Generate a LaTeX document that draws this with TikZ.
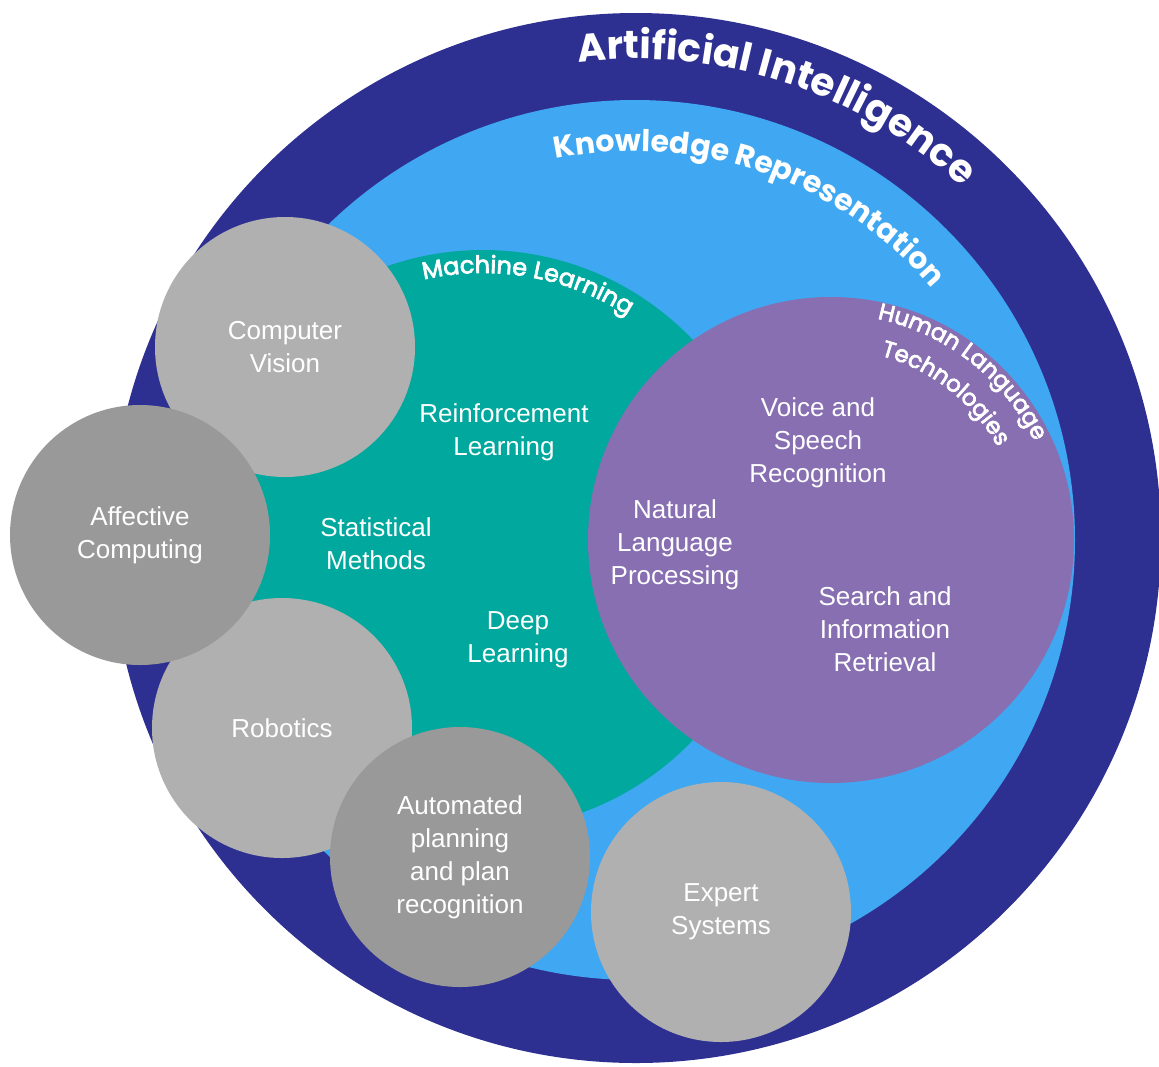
\documentclass[tikz,border=0pt]{standalone}
\usepackage{fontspec}
\setmainfont{Liberation Sans}
\newfontfamily\titlefont{Poppins}
\newfontfamily\subtitlefont{Poppins}[FakeBold=3]
\usepackage{tikz}
\usetikzlibrary{decorations.text}

\definecolor{aiblue}{RGB}{45,48,145}
\definecolor{krblue}{RGB}{64,168,242}
\definecolor{mlteal}{RGB}{0,168,158}
\definecolor{hltpurple}{RGB}{135,111,178}
\definecolor{palegrey}{RGB}{176,176,176}
\definecolor{midgrey}{RGB}{153,153,153}

% fonts for the ring titles
\newcommand{\aifont}{\titlefont\bfseries\fontsize{39}{46}\selectfont\color{white}}
\newcommand{\krfont}{\titlefont\bfseries\fontsize{30}{36}\selectfont\color{white}}
\newcommand{\mlfont}{\subtitlefont\fontsize{24}{28}\selectfont\color{white}}
\newcommand{\hltfont}{\subtitlefont\fontsize{23}{27}\selectfont\color{white}}

\begin{document}
\begin{tikzpicture}[x=1pt,y=1pt,
  topic/.style={circle,minimum size=260pt,inner sep=0pt,text=white,align=center,
    font=\fontsize{26}{33}\selectfont},
  tag/.style={text=white,align=center,font=\fontsize{26}{33}\selectfont},
  curved/.style={decorate,decoration={text along path,text align=center,text={#1}}}]
\useasboundingbox (0,0) rectangle (1159,-1066);

% nested fields
\coordinate (ai) at (636,-538);
\coordinate (kr) at (635,-540);
\coordinate (ml) at (483,-540);
\coordinate (hlt) at (831,-540);
\fill [aiblue] (ai) circle (525);
\fill [krblue] (kr) circle (440);
\fill [mlteal] (ml) circle (290);
\fill [hltpurple] (hlt) circle (243);

% ring titles
\path [curved={|\aifont|Artificial Intelligence}]
  ([shift={(117:479)}]ai) arc [start angle=117, end angle=27, radius=479];
\path [curved={|\krfont|Knowledge Representation}]
  ([shift={(121:389)}]kr) arc [start angle=121, end angle=21, radius=389];
\path [curved={|\mlfont|Machine Learning}]
  ([shift={(125:267)}]ml) arc [start angle=125, end angle=35, radius=267];
\path [curved={|\hltfont|Human Language}]
  ([shift={(102:226)}]hlt) arc [start angle=102, end angle=2, radius=226];
\path [curved={|\hltfont|Technologies}]
  ([shift={(102:191)}]hlt) arc [start angle=102, end angle=2, radius=191];

% machine learning topics
\node [tag] (rl) at (504,-432) {Reinforcement\\Learning};
\node [tag] (sm) at (376,-544) {Statistical\\Methods};
\node [tag] (dl) at (518,-640) {Deep\\Learning};

% language topics
\node [tag] (vsr) at (818,-443) {Voice and\\Speech\\Recognition};
\node [tag] (nlp) at (675,-545) {Natural\\Language\\Processing};
\node [tag] (sir) at (885,-629) {Search and\\Information\\Retrieval};

% satellite fields
\node [topic,fill=palegrey] (cv) at (285,-347) {Computer\\Vision};
\node [topic,fill=palegrey] (rob) at (282,-728) {Robotics};
\node [topic,fill=midgrey] (ac) at (140,-535) {Affective\\Computing};
\node [topic,fill=midgrey] (apr) at (460,-857) {Automated\\planning\\and plan\\recognition};
\node [topic,fill=palegrey] (es) at (721,-912) {Expert\\Systems};
\end{tikzpicture}
\end{document}
